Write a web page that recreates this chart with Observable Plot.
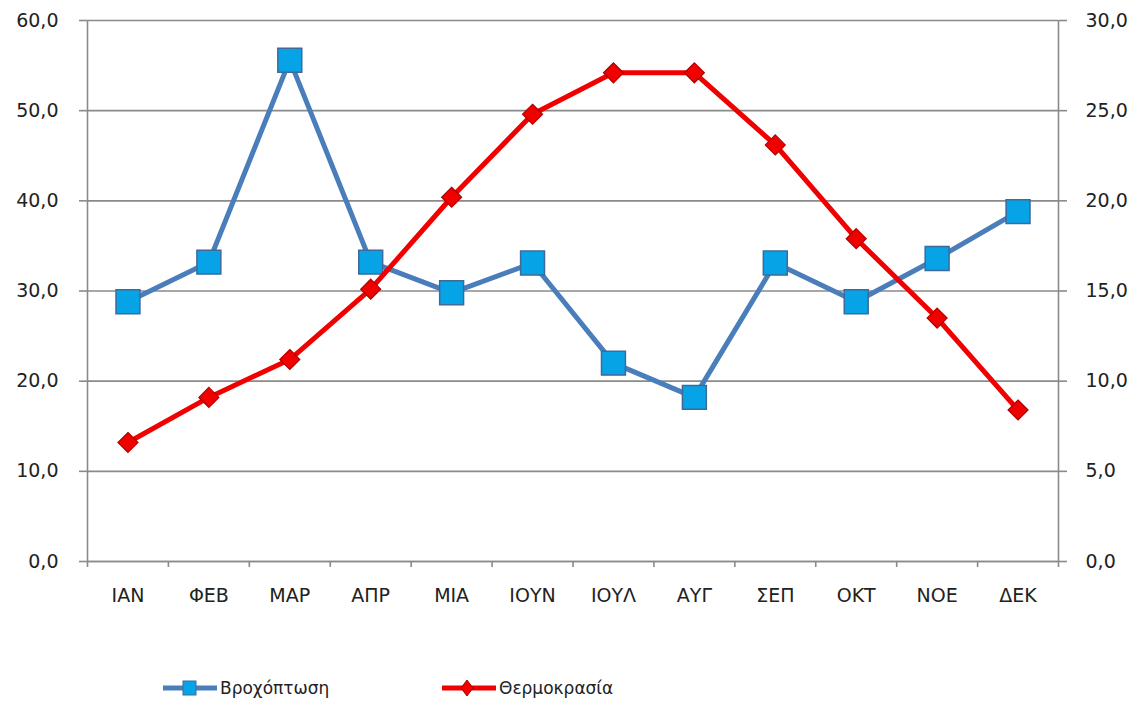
<!DOCTYPE html>
<html><head><meta charset="utf-8">
<script src="https://cdn.jsdelivr.net/npm/d3@7"></script>
<script src="https://cdn.jsdelivr.net/npm/@observablehq/plot@0.6"></script>
<style>
body{margin:0;background:#fff;font-family:"DejaVu Sans",sans-serif;}
#wrap{position:relative;width:1139px;height:701px;overflow:hidden;}
#legend{position:absolute;left:0;top:676px;width:1139px;height:24px;font-size:17px;color:#222;}
.item{position:absolute;top:0;display:flex;align-items:center;height:24px;}
.item svg{display:block;}
</style></head><body><div id="wrap"></div>
<script>
const months = ["ΙΑΝ","ΦΕΒ","ΜΑΡ","ΑΠΡ","ΜΙΑ","ΙΟΥΝ","ΙΟΥΛ","ΑΥΓ","ΣΕΠ","ΟΚΤ","ΝΟΕ","ΔΕΚ"];
const rain = [28.8,33.2,55.6,33.2,29.8,33.1,22.0,18.2,33.1,28.8,33.6,38.8];
const temp = [6.6,9.1,11.2,15.1,20.2,24.8,27.1,27.1,23.1,17.9,13.5,8.4];
const leftTicks = [0,10,20,30,40,50,60];
const rightTicks = [0,5,10,15,20,25,30];
const seriesNames = ["Βροχόπτωση","Θερμοκρασία"];

const ratio = 60 / 30; // right axis max 30 maps onto left axis max 60
const fmt = d => d.toFixed(1).replace(".", ",");
const rows = months.map((m, i) => ({i: i + 0.5, m, rain: rain[i], temp: temp[i]}));

const blueLine = "#4a7ebb", blueFill = "#06a3e6", blueStroke = "#3e6a9a";
const redLine = "#f00000", redFill = "#f20000", redStroke = "#b00000";
const axisColor = "#8a8a8a";

const chart = Plot.plot({
  width: 1139,
  height: 630,
  marginLeft: 87,
  marginRight: 81,
  marginTop: 20,
  marginBottom: 69,
  style: {fontFamily: "DejaVu Sans, sans-serif", fontSize: "19px", color: "#222", background: "#fff"},
  x: {type: "linear", domain: [0, months.length]},
  y: {domain: [0, 60]},
  marks: [
    Plot.gridY(leftTicks, {stroke: axisColor, strokeOpacity: 1, strokeWidth: 1.6}),
    Plot.axisY({ticks: leftTicks, tickFormat: fmt, tickSize: 8, tickPadding: 21, stroke: axisColor, strokeWidth: 1.6, label: null, fontSize: 19}),
    Plot.axisY({anchor: "right", ticks: rightTicks.map(t => t * ratio), tickFormat: d => fmt(d / ratio), tickSize: 8, tickPadding: 19, stroke: axisColor, strokeWidth: 1.6, label: null, fontSize: 19}),
    Plot.ruleX([0, months.length], {stroke: axisColor, strokeWidth: 1.6}),
    Plot.ruleY([0], {stroke: axisColor, strokeWidth: 1.6}),
    Plot.axisX({ticks: d3.range(months.length + 1), tickFormat: () => "", tickSize: 6, stroke: axisColor, strokeWidth: 1.6, label: null}),
    Plot.axisX({ticks: months.map((m, i) => i + 0.5), tickFormat: d => months[Math.floor(d)], tickSize: 0, tickPadding: 27, label: null, fontSize: 19}),
    Plot.line(rows, {x: "i", y: "rain", stroke: blueLine, strokeWidth: 5}),
    Plot.dot(rows, {x: "i", y: "rain", symbol: "square", r: 13.5, fill: blueFill, stroke: blueStroke, strokeWidth: 1.5}),
    Plot.line(rows, {x: "i", y: d => d.temp * ratio, stroke: redLine, strokeWidth: 5}),
    Plot.dot(rows, {x: "i", y: d => d.temp * ratio, symbol: "diamond2", r: 9, fill: redFill, stroke: redStroke, strokeWidth: 1.2})
  ]
});
const wrap = document.getElementById("wrap");
wrap.appendChild(chart);

const legend = document.createElement("div");
legend.id = "legend";
function swatch(kind) {
  const svg = d3.create("svg").attr("width", 56).attr("height", 24);
  svg.append("line").attr("x1", 1).attr("x2", 55).attr("y1", 12).attr("y2", 12)
    .attr("stroke", kind === "sq" ? blueLine : redLine).attr("stroke-width", 5);
  if (kind === "sq") {
    svg.append("rect").attr("x", 21).attr("y", 5).attr("width", 13).attr("height", 14)
      .attr("fill", blueFill).attr("stroke", blueStroke).attr("stroke-width", 1);
  } else {
    svg.append("path").attr("d", "M26,4 L32,12 L26,20 L20,12 Z")
      .attr("fill", redFill).attr("stroke", redStroke).attr("stroke-width", 1);
  }
  return svg.node();
}
const items = [{name: seriesNames[0], kind: "sq", left: 162}, {name: seriesNames[1], kind: "di", left: 441}];
for (const it of items) {
  const d = document.createElement("div");
  d.className = "item";
  d.style.left = it.left + "px";
  d.appendChild(swatch(it.kind));
  const s = document.createElement("span");
  s.textContent = it.name;
  s.style.marginLeft = "2px";
  d.appendChild(s);
  legend.appendChild(d);
}
wrap.appendChild(legend);
</script>
</body></html>
